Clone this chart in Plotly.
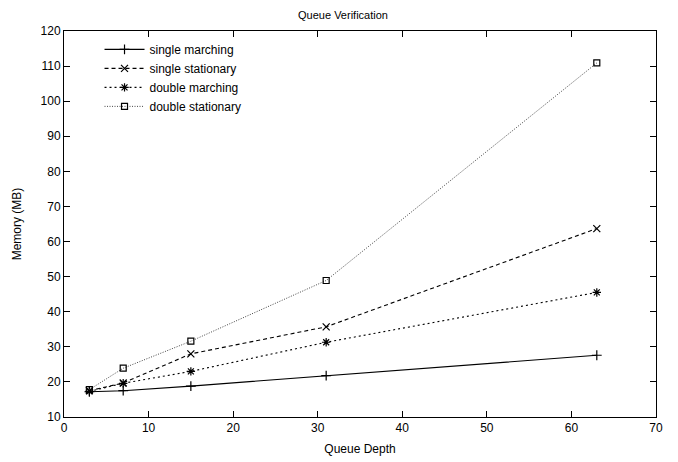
import plotly.graph_objects as go

queue_depth = [3, 7, 15, 31, 63]
single_marching = [17.2, 17.5, 18.8, 21.8, 27.6]
single_stationary = [17.5, 19.7, 28.0, 35.7, 63.7]
double_marching = [17.3, 19.6, 23.0, 31.3, 45.5]
double_stationary = [17.8, 23.9, 31.6, 48.9, 110.9]

series = [
    ("single marching", single_marching, "solid", "cross-thin", "black", 1.1, 7),
    ("single stationary", single_stationary, "4px,3px", "x-thin", "black", 1.1, 7),
    ("double marching", double_marching, "2px,3px", "asterisk", "black", 1.1, 7),
    ("double stationary", double_stationary, "1px,1.5px", "square-open", "#444444", 1.0, 6),
]

fig = go.Figure()
for name, ys, dash, sym, col, w, ms in series:
    fig.add_trace(go.Scatter(
        x=queue_depth, y=ys, name=name, mode="lines+markers",
        line=dict(color=col, width=w, dash=dash),
        marker=dict(symbol=sym, size=ms, color="black",
                    line=dict(color="black", width=1.2)),
    ))

axis_common = dict(
    showgrid=False, zeroline=False, showline=True, linecolor="black",
    linewidth=1, mirror="allticks", ticks="inside", ticklen=6,
    tickcolor="black", tickfont=dict(size=12, color="black"),
    automargin=False,
)

fig.update_layout(
    width=670, height=454,
    paper_bgcolor="white", plot_bgcolor="white",
    font=dict(family="Liberation Sans, Arial, sans-serif", size=12, color="black"),
    margin=dict(l=56, r=22, t=23, b=45),
    title=dict(text="Queue Verification", x=0.5, xanchor="center", y=0.984,
               yanchor="middle", font=dict(size=11)),
    xaxis=dict(range=[0, 70], dtick=10, tick0=0,
               title=dict(text="Queue Depth", standoff=10, font=dict(size=12)),
               **axis_common),
    yaxis=dict(range=[10, 120], dtick=10, tick0=10,
               title=dict(text="Memory (MB)", standoff=16, font=dict(size=12)),
               **axis_common),
    legend=dict(x=0.06, y=0.99, xanchor="left", yanchor="top",
                bgcolor="rgba(0,0,0,0)", font=dict(size=12),
                tracegroupgap=0, itemwidth=40),
    showlegend=True,
)

fig.write_html("out.html")
